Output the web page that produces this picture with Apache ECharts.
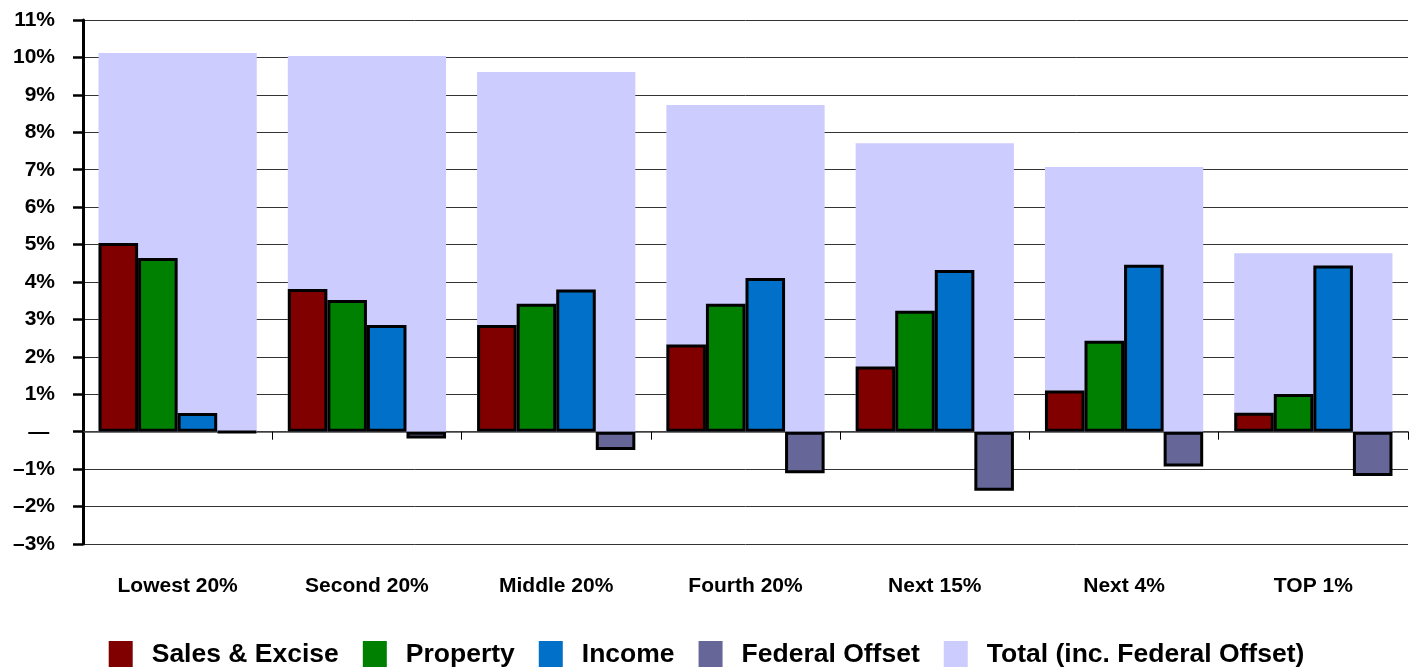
<!DOCTYPE html>
<html>
<head>
<meta charset="utf-8">
<script src="https://cdn.jsdelivr.net/npm/echarts@6/dist/echarts.min.js"></script>
<style>
html,body{margin:0;padding:0;background:#fff;}
#chart{width:1413px;height:667px;}
</style>
</head>
<body>
<div id="chart"></div>
<script>
const categories = ['Lowest 20%', 'Second 20%', 'Middle 20%', 'Fourth 20%', 'Next 15%', 'Next 4%', 'TOP 1%'];
const salesExcise = [5.04, 3.81, 2.85, 2.33, 1.74, 1.10, 0.51];
const property = [4.64, 3.52, 3.42, 3.42, 3.23, 2.43, 1.01];
const income = [0.50, 2.85, 3.80, 4.11, 4.32, 4.46, 4.44];
const federalOffset = [-0.02, -0.18, -0.49, -1.11, -1.58, -0.93, -1.18];
const total = [10.12, 10.04, 9.61, 8.73, 7.71, 7.07, 4.77];
const seriesNames = ['Sales & Excise', 'Property', 'Income', 'Federal Offset', 'Total (inc. Federal Offset)'];

const FONT = "'Liberation Sans', Arial, Helvetica, sans-serif";
const colors = ['#800000', '#008000', '#0070C8', '#666699', '#CCCCFF'];

function yLabel(v) {
  if (v === 0) return '\u2014 ';
  if (v < 0) return '\u2013' + Math.abs(v) + '%';
  return v + '%';
}

const chart = echarts.init(document.getElementById('chart'), null, {renderer: 'canvas'});

const barStyle = (c) => ({color: c, borderColor: '#000', borderWidth: 3});

chart.setOption({
  animation: false,
  backgroundColor: '#fff',
  grid: {left: 83, right: 5, top: 20, bottom: 123, containLabel: false},
  legend: {
    data: seriesNames,
    top: 636,
    left: 'center',
    icon: 'rect',
    itemWidth: 24,
    itemHeight: 27,
    itemGap: 24,
    itemStyle: {borderWidth: 0},
    textStyle: {fontFamily: FONT, fontSize: 26.5, fontWeight: 'bold', color: '#000', padding: [0, 0, 0, 14]}
  },
  xAxis: [
    {
      type: 'category',
      data: categories,
      position: 'bottom',
      axisLine: {show: false, onZero: false},
      axisTick: {show: false},
      axisLabel: {fontFamily: FONT, fontSize: 21, fontWeight: 'bold', color: '#000', margin: 32}
    },
    {
      type: 'category',
      data: categories,
      position: 'bottom',
      axisLine: {show: true, onZero: true, lineStyle: {color: '#444', width: 1.5}},
      axisTick: {show: true, length: 8, lineStyle: {color: '#000', width: 1}},
      axisLabel: {show: false}
    }
  ],
  yAxis: {
    type: 'value',
    min: -3,
    max: 11,
    interval: 1,
    axisLine: {show: true, onZero: false, lineStyle: {color: '#000', width: 3}},
    axisTick: {show: true, length: 10, lineStyle: {color: '#000', width: 2.5}},
    axisLabel: {fontFamily: FONT, fontSize: 21, fontWeight: 'bold', color: '#000', margin: 28, formatter: yLabel},
    splitLine: {show: true, lineStyle: {color: '#333', width: 1}}
  },
  series: [
    {
      name: seriesNames[4], type: 'bar', xAxisIndex: 1, data: total,
      barWidth: '83.6%', itemStyle: {color: colors[4], borderWidth: 0}, z: 1
    },
    {name: seriesNames[0], type: 'bar', xAxisIndex: 0, data: salesExcise, barGap: 0, barCategoryGap: '16.4%', itemStyle: barStyle(colors[0]), z: 3},
    {name: seriesNames[1], type: 'bar', xAxisIndex: 0, data: property, barGap: 0, barCategoryGap: '16.4%', itemStyle: barStyle(colors[1]), z: 3},
    {name: seriesNames[2], type: 'bar', xAxisIndex: 0, data: income, barGap: 0, barCategoryGap: '16.4%', itemStyle: barStyle(colors[2]), z: 3},
    {name: seriesNames[3], type: 'bar', xAxisIndex: 0, data: federalOffset, barGap: 0, barCategoryGap: '16.4%', itemStyle: barStyle(colors[3]), z: 3}
  ]
});
</script>
</body>
</html>
